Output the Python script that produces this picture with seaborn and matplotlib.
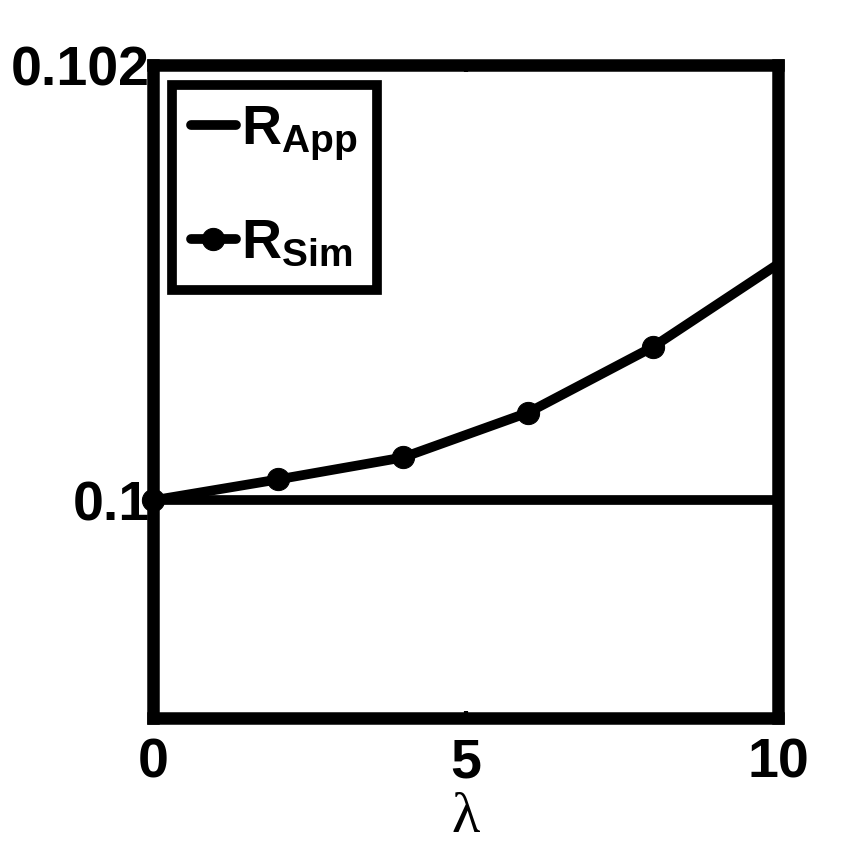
import matplotlib
matplotlib.use("Agg")
import matplotlib.pyplot as plt
import seaborn as sns
import pandas as pd

# data
lam = [0, 2, 4, 6, 8, 10]
r_sim = [0.1, 0.100096, 0.100197, 0.100403, 0.100705, 0.101085]
r_app = [0.1, 0.1, 0.1, 0.1, 0.1, 0.1]
x_ticks = [0, 5, 10]
y_ticks = [0.1, 0.102]
y_tick_labels = ['0.1', '0.102']

df = pd.DataFrame({'lam': lam, 'sim': r_sim, 'app': r_app})

sns.set_style("white")
plt.rcParams['font.family'] = ['Liberation Sans', 'DejaVu Sans']
plt.rcParams['font.weight'] = 'bold'
plt.rcParams['text.color'] = 'black'
plt.rcParams['xtick.color'] = 'black'
plt.rcParams['ytick.color'] = 'black'
plt.rcParams['axes.labelcolor'] = 'black'
plt.rcParams['mathtext.fontset'] = 'custom'
plt.rcParams['mathtext.bf'] = 'Liberation Sans:bold'
plt.rcParams['mathtext.rm'] = 'Liberation Sans:bold'

fig = plt.figure(figsize=(8.63, 8.5), dpi=100)
ax = fig.add_axes([0.1773, 0.1553, 0.7242, 0.7682])

sns.lineplot(data=df, x='lam', y='app', ax=ax, color='black', lw=7,
             label=r'$\mathbf{R_{App}}$', clip_on=False)
sns.lineplot(data=df, x='lam', y='sim', ax=ax, color='black', lw=7,
             marker='o', markersize=16, markeredgecolor='black',
             markevery=[0, 1, 2, 3, 4],
             label=r'$\mathbf{R_{Sim}}$', clip_on=False)

ax.set_xlim(0, 10)
ax.set_ylim(0.099, 0.102)
ax.set_xticks(x_ticks)
ax.set_xticklabels([str(t) for t in x_ticks], fontsize=40, fontweight='bold')
ax.set_yticks(y_ticks)
ax.set_yticklabels(y_tick_labels, fontsize=40, fontweight='bold')
ax.tick_params(axis='x', direction='in', length=5, width=3, pad=14,
               top=True, bottom=True, colors='black')
ax.tick_params(axis='y', direction='in', length=5, width=3, pad=2,
               left=True, right=True, colors='black')

ax.set_xlabel('λ', fontsize=42, family='Liberation Serif', fontweight='normal',
              labelpad=2, color='black')
ax.set_ylabel('')

for s in ax.spines.values():
    s.set_linewidth(9)
    s.set_color('black')

leg = ax.legend(loc='upper left', bbox_to_anchor=(0.03, 0.97), fontsize=40,
                handlelength=0.8, handletextpad=0.1, borderpad=0.35,
                labelspacing=1.0, fancybox=False, framealpha=1,
                borderaxespad=0)
leg.get_frame().set_edgecolor('black')
leg.get_frame().set_linewidth(7)
for t in leg.get_texts():
    t.set_color('black')

plt.savefig('out.png', dpi=100)
